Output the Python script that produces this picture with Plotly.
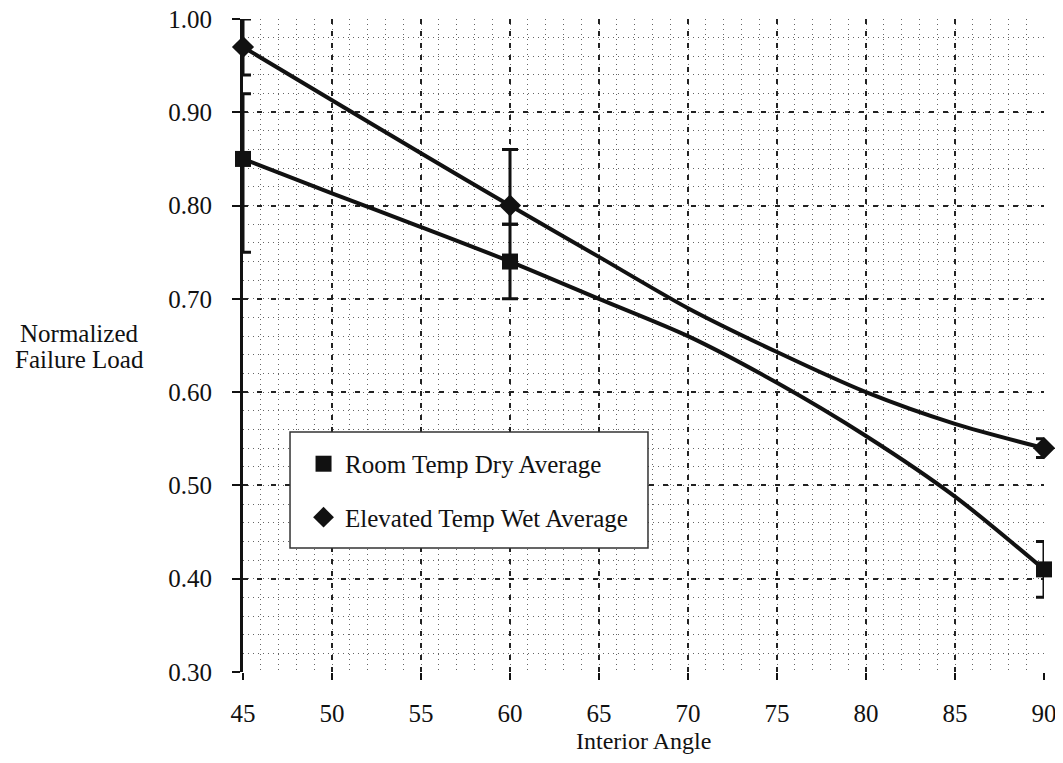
import plotly.graph_objects as go

# measured points (interior angle, normalized failure load) with error bar ends
angles = [45, 60, 90]
room_avg = [0.85, 0.74, 0.41]
room_hi = [0.92, 0.78, 0.44]
room_lo = [0.75, 0.70, 0.38]
wet_avg = [0.97, 0.80, 0.54]
wet_hi = [1.00, 0.86, 0.55]
wet_lo = [0.94, 0.78, 0.53]

# smoothed curves as drawn on the chart, read every 5 degrees
curve_angles = [45, 50, 55, 60, 65, 70, 75, 80, 85, 90]
room_curve = [0.85, 0.813, 0.777, 0.74, 0.70, 0.66, 0.61, 0.553, 0.488, 0.41]
wet_curve = [0.97, 0.913, 0.856, 0.80, 0.745, 0.69, 0.643, 0.60, 0.566, 0.54]

x_ticks = [45, 50, 55, 60, 65, 70, 75, 80, 85, 90]
y_ticks = [0.30, 0.40, 0.50, 0.60, 0.70, 0.80, 0.90, 1.00]

SERIF = "Liberation Serif, Times New Roman, serif"
INK = "#111111"


def _err(avg, hi, lo):
    return dict(
        type="data", symmetric=False,
        array=[h - a for a, h in zip(avg, hi)],
        arrayminus=[a - l for a, l in zip(avg, lo)],
        color=INK, thickness=3, width=8,
    )


fig = go.Figure()

for ys in (room_curve, wet_curve):
    fig.add_trace(go.Scatter(
        x=curve_angles, y=ys, mode="lines", showlegend=False,
        line=dict(color=INK, width=4, shape="spline", smoothing=0.8),
        hoverinfo="skip",
    ))

fig.add_trace(go.Scatter(
    x=angles, y=room_avg, mode="markers", name="Room Temp Dry Average",
    legendgroup="room", cliponaxis=False,
    marker=dict(symbol="square", size=16, color=INK),
    error_y=_err(room_avg, room_hi, room_lo),
))
fig.add_trace(go.Scatter(
    x=angles, y=wet_avg, mode="markers", name="Elevated Temp Wet Average",
    legendgroup="wet", cliponaxis=False,
    marker=dict(symbol="diamond", size=17, color=INK),
    error_y=_err(wet_avg, wet_hi, wet_lo),
))

fig.update_xaxes(
    range=[45, 90], tickvals=x_ticks, automargin=False, ticklabeloverflow="allow",
    showgrid=True, gridcolor="#222222", gridwidth=1.5, griddash="5px,7px",
    minor=dict(dtick=1, tick0=45, showgrid=True, gridcolor="#666666", gridwidth=1,
               griddash="1px,4px"),
    showline=False, zeroline=False,
    ticks="outside", ticklen=7, tickwidth=1.5, tickcolor=INK,
    ticklabelstandoff=12,
    tickfont=dict(family=SERIF, size=25, color=INK),
)
fig.update_yaxes(
    range=[0.30, 1.00], tickvals=y_ticks, tickformat=".2f", automargin=False,
    ticklabeloverflow="allow",
    showgrid=True, gridcolor="#222222", gridwidth=1.5, griddash="5px,9px",
    minor=dict(dtick=0.02, tick0=0.30, showgrid=True, gridcolor="#666666",
               gridwidth=1, griddash="1px,4px"),
    showline=True, linecolor=INK, linewidth=3, zeroline=False,
    ticks="outside", ticklen=8, tickwidth=1.5, tickcolor=INK,
    ticklabelstandoff=15,
    tickfont=dict(family=SERIF, size=25, color=INK),
)

# axis titles
for txt, yy in (("Normalized", 0.519), ("Failure Load", 0.478)):
    fig.add_annotation(
        text=txt, xref="paper", yref="paper", x=-0.2035, y=yy,
        xanchor="center", yanchor="middle", showarrow=False,
        font=dict(family=SERIF, size=25, color=INK),
    )
fig.add_annotation(
    text="Interior Angle", xref="paper", yref="paper", x=0.5, y=-0.1057,
    xanchor="center", yanchor="middle", showarrow=False,
    font=dict(family=SERIF, size=24, color=INK),
)

# legend frame
fig.add_shape(
    type="rect", xref="paper", yref="paper",
    x0=0.0587, x1=0.5056, y0=0.1899, y1=0.3675,
    line=dict(color="#333333", width=1.5), fillcolor="white", layer="above",
)

# the page body adds 8px on every side, so the figure is 16px smaller
fig.update_layout(
    width=1047, height=747,
    margin=dict(l=235, r=11, t=11, b=83),
    paper_bgcolor="white", plot_bgcolor="white",
    font=dict(family=SERIF, color=INK),
    legend=dict(
        x=0.0737, y=0.3538, xanchor="left", yanchor="top",
        bgcolor="rgba(0,0,0,0)", borderwidth=0,
        font=dict(family=SERIF, size=25, color=INK),
        tracegroupgap=18, itemwidth=33,
    ),
)

fig.write_html("out.html")
